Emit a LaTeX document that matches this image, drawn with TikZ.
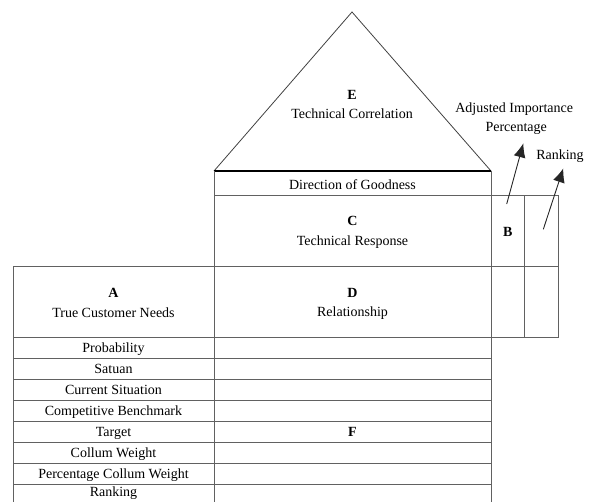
\documentclass[tikz,border=0pt]{standalone}
\usepackage{fontspec}
\setmainfont{Liberation Serif}
\usetikzlibrary{arrows.meta}
\begin{document}
\begin{tikzpicture}[x=1pt,y=-1pt,
  grid/.style={draw=black!62, line width=0.9pt},
  roof/.style={draw=black!75, line width=0.8pt},
  lbl/.style={anchor=base, inner sep=0pt, font=\fontsize{14}{17}\selectfont},
  ltr/.style={anchor=base, inner sep=0pt, font=\fontsize{14}{17}\selectfont\bfseries},
  arr/.style={draw=black!85, line width=0.9pt, -{Latex[length=14pt,width=12pt]}}]
\useasboundingbox (0,0) rectangle (591,501);
\clip (0,0) rectangle (591,501);
% roof
\draw[roof] (214,171) -- (352,12) -- (491,171);
\draw[line width=1.8pt] (214,171) -- (491,171);
% verticals
\draw[grid] (214,171) -- (214,510);
\draw[grid] (491,171) -- (491,510);
\draw[grid] (13,266.5) -- (13,510);
\draw[grid] (524.5,195.5) -- (524.5,337.5);
\draw[grid] (558.5,195.5) -- (558.5,337.5);
% horizontals
\draw[grid] (214,195.5) -- (558.5,195.5);
\draw[grid] (13,266.5) -- (558.5,266.5);
\draw[grid] (13,337.5) -- (558.5,337.5);
\foreach \yy in {358.5,379.5,400.5,421.5,442.5,463.5,484.5,505.5}
  \draw[grid] (13,\yy) -- (491,\yy);
% texts
\node[ltr] (e) at (352,99.5) {E};
\node[lbl] (etxt) at (352,118.5) {Technical Correlation};
\node[lbl] (dog) at (352.5,189) {Direction of Goodness};
\node[ltr] (c) at (352.5,225.7) {C};
\node[lbl] (ctxt) at (352.5,245.7) {Technical Response};
\node[ltr] (d) at (352.5,297.3) {D};
\node[lbl] (dtxt) at (352.5,316.7) {Relationship};
\node[ltr] (a) at (113.5,297.3) {A};
\node[lbl] (atxt) at (113.5,317) {True Customer Needs};
\node[ltr] (b) at (507.7,236.7) {B};
\node[ltr] (f) at (352.5,436.7) {F};
\node[lbl] (r1) at (113.5,352.7) {Probability};
\node[lbl] (r2) at (113.5,373.7) {Satuan};
\node[lbl] (r3) at (113.5,394.7) {Current Situation};
\node[lbl] (r4) at (113.5,415.7) {Competitive Benchmark};
\node[lbl] (r5) at (113.5,436.7) {Target};
\node[lbl] (r6) at (113.5,457.7) {Collum Weight};
\node[lbl] (r7) at (113.5,478.7) {Percentage Collum Weight};
\node[lbl] (r8) at (113.5,496.8) {Ranking};
\node[lbl] (aip1) at (514.2,112.5) {Adjusted Importance};
\node[lbl] (aip2) at (516.2,131.7) {Percentage};
\node[lbl] (rk) at (560,159) {Ranking};
% arrows
\coordinate (s1) at (506.7,204);
\coordinate (t1) at (523.3,143.3);
\coordinate (s2) at (543.3,229.3);
\coordinate (t2) at (563.3,168.3);
\draw[arr] (s1) -- (t1);
\draw[arr] (s2) -- (t2);
\end{tikzpicture}
\end{document}
